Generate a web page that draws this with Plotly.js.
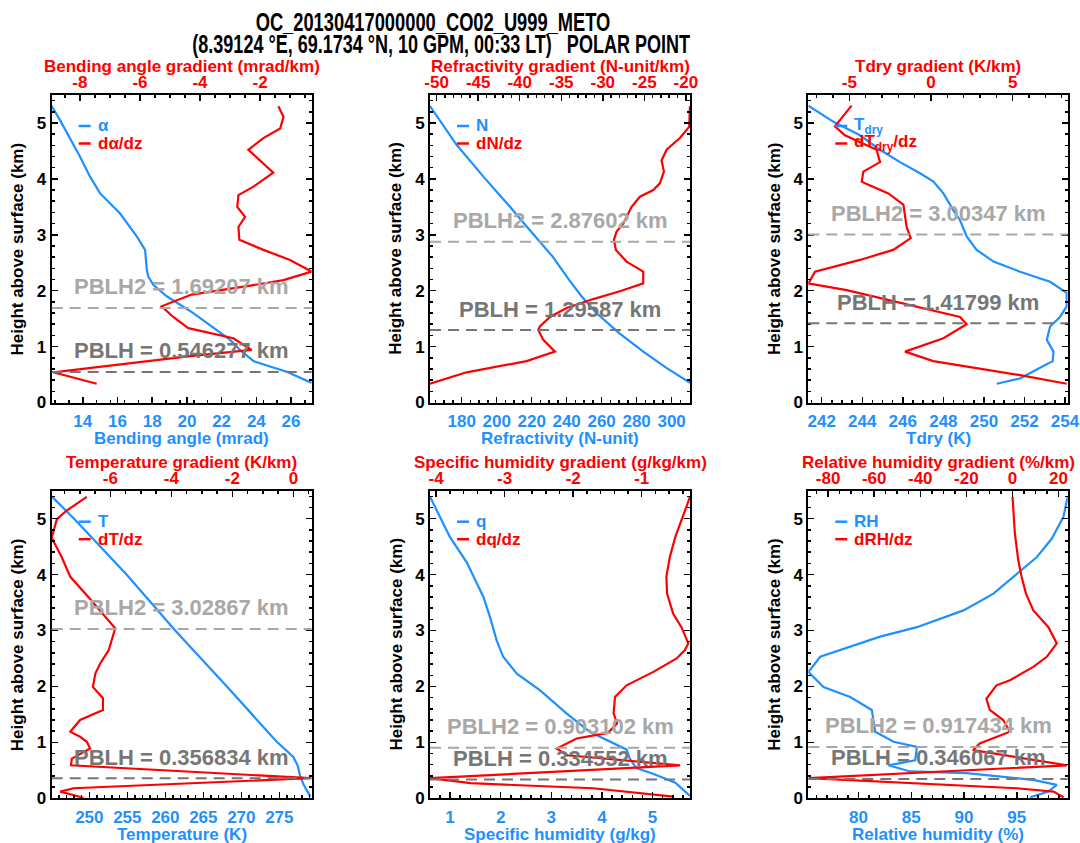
<!DOCTYPE html>
<html><head><meta charset="utf-8">
<script src="https://cdn.plot.ly/plotly-3.0.1.min.js"></script>
<style>html,body{margin:0;padding:0;background:#fff}#chart{width:1080px;height:843px}</style>
</head><body><div id="chart"></div>
<script>
// ---------------- data ----------------
const titleLine1 = 'OC_20130417000000_CO02_U999_METO';
const titleLine2 = '(8.39124 °E, 69.1734 °N, 10 GPM, 00:33 LT)\u00a0\u00a0\u00a0POLAR POINT';

// Panel 1: bending angle
const alphaVal = [12.21,12.69,13.85,14.42,15.0,16.15,17.11,17.59,17.69,17.78,18.07,18.84,20.37,21.91,22.49,23.06,23.83,25.75,27.19];
const alphaH   = [5.30,5.05,4.39,4.04,3.74,3.38,2.97,2.73,2.37,2.25,2.10,1.90,1.60,1.24,1.12,0.94,0.74,0.55,0.35];
const dAlphaVal = [-1.39,-1.22,-1.33,-1.89,-2.39,-1.56,-2.22,-2.72,-2.76,-2.50,-2.72,-2.69,-1.89,-1.00,-0.28,-1.22,-2.22,-4.28,-5.28,-4.89,-4.39,-2.89,-2.28,-4.33,-8.89,-7.44];
const dAlphaH   = [5.30,5.11,4.90,4.73,4.52,4.11,3.86,3.71,3.50,3.32,3.14,2.91,2.73,2.55,2.34,2.19,2.10,1.93,1.72,1.53,1.33,1.15,0.94,0.83,0.54,0.335];

// Panel 2: refractivity
const nVal = [161.9,177.1,192.4,205.7,219.0,232.0,241.5,248.5,257.0,270.0,283.8,297.0,310.5];
const nH   = [5.30,4.61,4.04,3.57,3.08,2.61,2.19,1.90,1.60,1.24,0.91,0.62,0.35];
const dNVal = [-19.51,-19.51,-19.6,-20.72,-22.32,-22.92,-22.64,-23.13,-23.93,-25.53,-26.53,-27.14,-27.54,-28.34,-28.66,-28.42,-27.14,-25.13,-25.13,-27.94,-31.15,-34.36,-36.36,-37.57,-37.77,-37.16,-35.76,-39.17,-46.39,-50.8];
const dNH   = [5.30,5.11,4.93,4.73,4.52,4.33,4.13,3.92,3.80,3.68,3.50,3.32,3.20,3.06,2.91,2.73,2.52,2.34,2.13,1.99,1.85,1.69,1.53,1.36,1.30,1.12,0.91,0.74,0.54,0.335];

// Panel 3: dry temperature
const tdryVal = [241.34,242.58,243.89,244.88,245.86,246.85,247.51,248.0,248.49,248.82,249.15,249.64,250.47,251.78,253.26,254.08,254.08,253.75,253.26,253.1,253.43,253.39,252.6,251.78,250.63];
const tdryH   = [5.31,5.02,4.78,4.52,4.30,4.10,3.95,3.74,3.44,3.26,2.97,2.73,2.52,2.34,2.16,1.96,1.72,1.53,1.36,1.12,0.91,0.74,0.59,0.43,0.335];
const dTdryVal = [-4.86,-5.88,-5.27,-3.33,-3.12,-4.14,-4.24,-4.04,-2.61,-1.69,-1.49,-1.24,-2.31,-4.35,-7.10,-7.51,-5.16,-1.49,1.78,2.18,0.76,-1.59,0.14,5.45,8.31];
const dTdryH   = [5.31,4.94,4.78,4.52,4.30,4.13,3.95,3.92,3.74,3.54,3.14,2.94,2.73,2.55,2.34,2.13,2.01,1.75,1.53,1.40,1.15,0.91,0.74,0.49,0.335];

// Panel 4: temperature
const tVal = [245.04,248.0,254.9,261.3,268.1,274.6,276.84,277.4,277.7,278.2,279.1];
const tH   = [5.40,5.0,4.0,3.0,2.0,1.02,0.74,0.59,0.42,0.24,0.03];
const dTVal = [-6.77,-7.42,-7.75,-7.92,-7.59,-7.31,-6.77,-6.33,-5.84,-6.05,-6.33,-6.49,-6.57,-6.24,-6.24,-6.99,-7.31,-6.99,-6.77,-6.66,-7.26,-7.29,0.57,-7.21,-7.64,-6.88];
const dTH   = [5.39,5.15,4.99,4.66,4.31,3.96,3.63,3.36,3.04,2.65,2.41,2.23,1.99,1.79,1.58,1.40,1.19,1.10,1.01,0.89,0.71,0.59,0.36,0.18,0.12,0.01];

// Panel 5: specific humidity
const qVal = [0.605,0.80,1.0,1.33,1.66,1.79,1.92,2.05,2.32,2.78,3.30,3.76,4.16,4.49,4.55,4.68,5.01,5.45,5.74];
const qH   = [5.39,5.03,4.67,4.22,3.60,3.24,2.83,2.53,2.23,1.93,1.52,1.19,1.01,0.87,0.71,0.54,0.44,0.28,0.04];
const dqVal = [-0.295,-0.37,-0.44,-0.51,-0.59,-0.64,-0.63,-0.54,-0.42,-0.32,-0.37,-0.49,-0.83,-1.22,-1.39,-1.41,-1.36,-1.49,-1.95,-2.24,-2.09,-0.44,-4.09,-3.50,-1.71,-0.54];
const dqH   = [5.39,5.15,4.91,4.67,4.31,3.96,3.66,3.30,3.06,2.77,2.65,2.50,2.26,2.02,1.81,1.52,1.34,1.17,1.07,0.89,0.77,0.59,0.36,0.27,0.18,0.03];

// Panel 6: relative humidity
const rhVal = [99.83,99.42,98.31,96.89,94.68,92.79,89.95,85.53,82.05,80.16,76.37,75.26,76.68,79.21,81.26,81.58,83.32,85.53,85.37,82.84,84.9,90.26,96.57,98.79,98.0,96.27];
const rhH   = [5.39,5.03,4.64,4.31,3.96,3.66,3.36,3.06,2.89,2.77,2.53,2.26,1.99,1.81,1.58,1.19,1.01,0.92,0.68,0.59,0.48,0.45,0.33,0.24,0.12,0.02];
const dRhVal = [0.06,1.08,2.53,3.99,5.88,9.08,15.63,19.27,14.9,9.08,-1.1,-6.93,-11.3,-9.84,-4.02,-1.1,-14.2,-17.1,23.67,-88.4,1.83,17.8,22.2];
const dRhH   = [5.39,4.73,4.26,3.96,3.66,3.36,3.06,2.77,2.53,2.35,2.11,2.02,1.78,1.58,1.40,1.19,0.98,0.86,0.59,0.36,0.18,0.12,0.02];

const pblh  = [0.546277, 1.29587, 1.41799, 0.356834, 0.334552, 0.346067];
const pblh2 = [1.69207, 2.87602, 3.00347, 3.02867, 0.903102, 0.917434];

const bottomTitles = ['Bending angle (mrad)','Refractivity (N-unit)','Tdry (K)','Temperature (K)','Specific humidity (g/kg)','Relative humidity (%)'];
const topTitles = ['Bending angle gradient (mrad/km)','Refractivity gradient (N-unit/km)','Tdry gradient (K/km)','Temperature gradient (K/km)','Specific humidity gradient (g/kg/km)','Relative humidity gradient (%/km)'];
const yTitle = 'Height above surface (km)';
const legendMain = ['α','N','T<sub>dry</sub>','T','q','RH'];
const legendGrad = ['dα/dz','dN/dz','dT<sub>dry</sub>/dz','dT/dz','dq/dz','dRH/dz'];

const bottomTicks = [[14,16,18,20,22,24,26],[180,200,220,240,260,280,300],[242,244,246,248,250,252,254],[250,255,260,265,270,275],[1,2,3,4,5],[80,85,90,95]];
const topTicks = [[-8,-6,-4,-2],[-50,-45,-40,-35,-30,-25,-20],[-5,0,5],[-6,-4,-2,0],[-4,-3,-2,-1],[-80,-60,-40,-20,0,20]];
const heightTicks = [0,1,2,3,4,5];

// ---------------- layout / styling ----------------
const W = 1080, H = 843;
const BLUE = '#1E90FF', RED = '#FF0000', GRAY2 = '#A8A8A8', GRAY1 = '#767676';
const FONT = '"Liberation Sans", Arial, Helvetica, sans-serif';
const colPx = [[51.7,311.7],[430,690],[808.3,1067.7]];
const rowPx = [[95,402.5],[490.7,798.3]];
const titleWidthPx = [355, 498];   // rendered widths of the condensed title lines
const titleCenterPx = [[433, 22], [441, 44]];

const panels = [
  {main:[alphaVal,alphaH], grad:[dAlphaVal,dAlphaH], xr:[12.21,27.19], tr:[-8.94,-0.28], bMinor:0.8, tMinor:0.5},
  {main:[nVal,nH], grad:[dNVal,dNH], xr:[161.9,310.5], tr:[-50.8,-19.5], bMinor:5, tMinor:1},
  {main:[tdryVal,tdryH], grad:[dTdryVal,dTdryH], xr:[241.34,254.13], tr:[-7.51,8.37], bMinor:0.5, tMinor:1},
  {main:[tVal,tH], grad:[dTVal,dTH], xr:[245.05,279.26], tr:[-7.92,0.6], bMinor:1, tMinor:0.5},
  {main:[qVal,qH], grad:[dqVal,dqH], xr:[0.605,5.74], tr:[-4.09,-0.295], bMinor:0.2, tMinor:0.2},
  {main:[rhVal,rhH], grad:[dRhVal,dRhH], xr:[75.24,99.83], tr:[-88.6,24.0], bMinor:1, tMinor:5}
];

const layout = {
  width: W, height: H, margin: {l:0,r:0,t:0,b:0},
  paper_bgcolor: '#fff', plot_bgcolor: '#fff', showlegend: false,
  font: {family: FONT, size: 17, color: '#000'},
  annotations: [], shapes: []
};
const traces = [];
const tf = c => ({family: FONT, size: 17, color: c, weight: 'bold'});
const af = (c, s) => ({family: FONT, size: s || 17, color: c, weight: 'bold'});
const minorCfg = (d, t0) => ({dtick: d, tick0: t0, ticks: 'inside', ticklen: 3, tickwidth: 1.5, tickcolor: '#000'});

[titleLine1, titleLine2].forEach((t, k) => {
  layout.annotations.push({xref:'paper', yref:'paper', x:titleCenterPx[k][0]/W, y:1-titleCenterPx[k][1]/H, xanchor:'center', yanchor:'middle',
    showarrow:false, text:t, font:{family:FONT, size:26, color:'#000', weight:'bold'}});
});

panels.forEach((p, i) => {
  const row = Math.floor(i/3), col = i % 3;
  const [lpx, rpx] = colPx[col];
  const [tpx, bpx] = rowPx[row];
  const xd = [lpx/W, rpx/W], yd = [1-bpx/H, 1-tpx/H];
  const nb = 2*i+1, nt = 2*i+2, ny = i+1;
  const xb = 'x' + (nb === 1 ? '' : nb), xt = 'x' + nt, yy = 'y' + (ny === 1 ? '' : ny);
  const xbKey = 'xaxis' + (nb === 1 ? '' : nb), xtKey = 'xaxis' + nt, yKey = 'yaxis' + (ny === 1 ? '' : ny);

  layout[xbKey] = {domain:xd, range:p.xr, anchor:yy, side:'bottom', showline:true, linecolor:'#000', linewidth:2, mirror:false,
    ticks:'inside', ticklen:6, tickwidth:1.5, tickcolor:'#000', tickmode:'array', tickvals:bottomTicks[i], ticktext:bottomTicks[i].map(String),
    tickfont:tf(BLUE), ticklabelstandoff:2, minor:minorCfg(p.bMinor, bottomTicks[i][0]), showgrid:false, zeroline:false, fixedrange:true};
  layout[xtKey] = {domain:xd, range:p.tr, anchor:yy, overlaying:xb, side:'top', showline:true, linecolor:'#000', linewidth:2, mirror:false,
    ticks:'inside', ticklen:6, tickwidth:1.5, tickcolor:'#000', tickmode:'array', tickvals:topTicks[i], ticktext:topTicks[i].map(String),
    tickfont:tf(RED), ticklabelstandoff:-2, minor:minorCfg(p.tMinor, topTicks[i][0]), showgrid:false, zeroline:false, fixedrange:true};
  layout[yKey] = {domain:yd, range:[0,5.5], anchor:xb, showline:true, linecolor:'#000', linewidth:2, mirror:'ticks',
    ticks:'inside', ticklen:6, tickwidth:1.5, tickcolor:'#000', tickmode:'array', tickvals:heightTicks, ticktext:heightTicks.map(String),
    tickfont:tf('#000'), minor:minorCfg(0.2, 0), showgrid:false, zeroline:false, fixedrange:true};

  traces.push({type:'scatter', mode:'lines', x:p.main[0], y:p.main[1], xaxis:xb, yaxis:yy, line:{color:BLUE, width:2.2}, hoverinfo:'skip'});
  traces.push({type:'scatter', mode:'lines', x:p.grad[0], y:p.grad[1], xaxis:xt, yaxis:yy, line:{color:RED, width:2.2}, hoverinfo:'skip'});

  layout.shapes.push({type:'line', xref:xb+' domain', x0:0, x1:1, yref:yy, y0:pblh2[i], y1:pblh2[i], line:{color:GRAY2, width:2, dash:'11px,7px'}});
  layout.shapes.push({type:'line', xref:xb+' domain', x0:0, x1:1, yref:yy, y0:pblh[i], y1:pblh[i], line:{color:GRAY1, width:2, dash:'11px,7px'}});

  layout.annotations.push({xref:xb+' domain', x:0.5, yref:yy, y:pblh2[i], yshift:21, xanchor:'center', yanchor:'middle', showarrow:false,
    text:'PBLH2 = ' + String(pblh2[i]) + ' km', font:af(GRAY2, 22)});
  layout.annotations.push({xref:xb+' domain', x:0.5, yref:yy, y:pblh[i], yshift:21, xanchor:'center', yanchor:'middle', showarrow:false,
    text:'PBLH = ' + String(pblh[i]) + ' km', font:af(GRAY1, 22)});

  // axis titles
  layout.annotations.push({xref:'paper', yref:'paper', x:(lpx+rpx)/2/W, y:1-(bpx+36)/H, xanchor:'center', yanchor:'middle', showarrow:false, text:bottomTitles[i], font:af(BLUE)});
  layout.annotations.push({xref:'paper', yref:'paper', x:(lpx+rpx)/2/W, y:1-(tpx-28)/H, xanchor:'center', yanchor:'middle', showarrow:false, text:topTitles[i], font:af(RED)});
  layout.annotations.push({xref:'paper', yref:'paper', x:(lpx-34)/W, y:1-(tpx+bpx)/2/H, xanchor:'center', yanchor:'middle', textangle:-90, showarrow:false, text:yTitle, font:af('#000')});

  // legend
  const ly1 = tpx + 31, ly2 = tpx + 48.5;
  [[ly1, BLUE, legendMain[i]], [ly2, RED, legendGrad[i]]].forEach(([ly, c, t]) => {
    layout.shapes.push({type:'line', xref:'paper', yref:'paper', x0:(lpx+27)/W, x1:(lpx+39)/W, y0:1-ly/H, y1:1-ly/H, line:{color:c, width:2.5}});
    layout.annotations.push({xref:'paper', yref:'paper', x:(lpx+44)/W, y:1-ly/H, xanchor:'left', yanchor:'middle', showarrow:false, text:t, font:af(c)});
  });
});

Plotly.newPlot('chart', traces, layout, {displayModeBar:false, staticPlot:true}).then(gd => {
  // condense the two title lines horizontally (the reference uses a narrow face)
  [0, 1].forEach(k => {
    const g = gd.querySelector('.annotation[data-index="' + k + '"]');
    if (!g) return;
    const t = g.querySelector('text');
    if (!t) return;
    const bb = t.getBBox();
    if (!bb.width) return;
    const sx = titleWidthPx[k] / bb.width;
    const cx = bb.x + bb.width / 2;
    const prev = t.getAttribute('transform') || '';
    t.setAttribute('transform', prev + ' translate(' + cx + ',0) scale(' + sx + ',1) translate(' + (-cx) + ',0)');
  });
});
</script>
</body></html>
